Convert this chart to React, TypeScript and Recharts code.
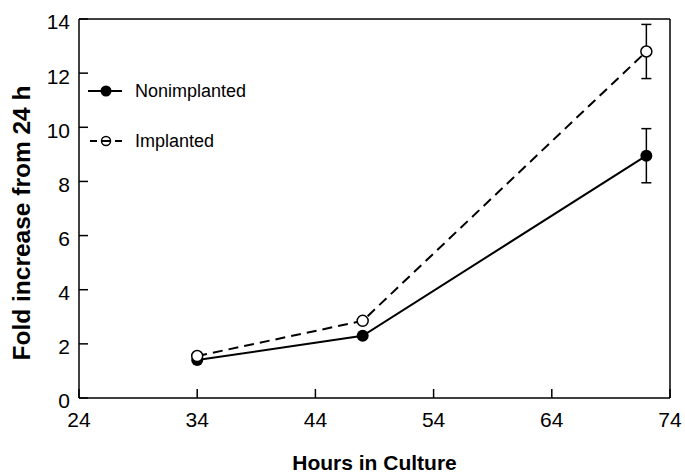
import React from 'react';
import { ErrorBar, Legend, Line, LineChart, ReferenceLine, XAxis, YAxis } from 'recharts';

// values
const hours: number[] = [34, 48, 72];
const nonimplanted: number[] = [1.4, 2.3, 8.95];
const nonimplantedErr: number[] = [0, 0, 1.0];
const implanted: number[] = [1.55, 2.85, 12.8];
const implantedErr: number[] = [0, 0, 1.0];

const xTicks: number[] = [24, 34, 44, 54, 64, 74];
const yTicks: number[] = [0, 2, 4, 6, 8, 10, 12, 14];

type row = {
    hours: number
    nonimplanted: number
    nonimplantedErr: number
    implanted: number
    implantedErr: number
};

const data: row[] = hours.map((h, i) => ({
    hours: h,
    nonimplanted: nonimplanted[i],
    nonimplantedErr: nonimplantedErr[i],
    implanted: implanted[i],
    implantedErr: implantedErr[i]
}));

const FONT = '"Liberation Sans", Arial, Helvetica, sans-serif';

const LegendBox = () => (
    <div style={{ fontFamily: FONT, fontSize: 18, color: '#000' }}>
        <div style={{ display: 'flex', alignItems: 'center', height: 24 }}>
            <svg width={40} height={24}>
                <line x1={2} y1={12} x2={36} y2={12} stroke="#000" strokeWidth={2}/>
                <circle cx={20} cy={12} r={5.5} fill="#000"/>
            </svg>
            <span style={{ marginLeft: 9 }}>Nonimplanted</span>
        </div>
        <div style={{ display: 'flex', alignItems: 'center', height: 24, marginTop: 26 }}>
            <svg width={40} height={24}>
                <circle cx={20} cy={12} r={4.5} fill="#fff" stroke="#000" strokeWidth={1.5}/>
                <line x1={4} y1={12} x2={36} y2={12} stroke="#000" strokeWidth={2}
                    strokeDasharray="7 4 10 4 7"/>
            </svg>
            <span style={{ marginLeft: 9 }}>Implanted</span>
        </div>
    </div>
);

// y title sits a little below the plot centre in the original
const YTitle = () => (
    <text x={21} y={223} transform="rotate(-90 21 223)" textAnchor="middle"
        dominantBaseline="central"
        style={{ fontFamily: FONT, fontSize: 24.5, fontWeight: 'bold', fill: '#000' }}>
        Fold increase from 24 h
    </text>
);

export default function App(): JSX.Element {
    const tickStyle = { fontFamily: FONT, fontSize: 21, fill: '#000' };
    return (
        <div style={{ position: 'absolute', left: 0, top: 0 }}>
            <LineChart width={685} height={473} data={data}
                margin={{ top: 19, right: 15, left: 0, bottom: 0 }}>
                <XAxis
                    dataKey="hours"
                    type="number"
                    domain={[24, 74]}
                    ticks={xTicks}
                    height={75}
                    tickSize={-9}
                    tickMargin={23}
                    tick={tickStyle}
                    axisLine={{ stroke: '#000', strokeWidth: 1.5 }}
                    tickLine={{ stroke: '#000', strokeWidth: 1.5 }}
                    label={{
                        value: 'Hours in Culture',
                        position: 'insideBottom',
                        offset: 3,
                        style: { fontFamily: FONT, fontSize: 21, fontWeight: 'bold', fill: '#000' }
                    }}
                />
                <YAxis
                    type="number"
                    domain={[0, 14]}
                    ticks={yTicks}
                    width={79}
                    tickSize={-9}
                    tickMargin={18}
                    tick={{ ...tickStyle, dy: 3 }}
                    axisLine={{ stroke: '#000', strokeWidth: 1.5 }}
                    tickLine={{ stroke: '#000', strokeWidth: 1.5 }}
                    label={<YTitle/>}
                />
                <ReferenceLine y={14} stroke="#000" strokeWidth={1.5}/>
                <ReferenceLine x={74} stroke="#000" strokeWidth={1.5}/>
                <Legend
                    layout="vertical"
                    align="center"
                    verticalAlign="middle"
                    content={() => <LegendBox/>}
                    wrapperStyle={{ position: 'absolute', left: 86, top: 79, width: 'auto' }}
                />
                <Line
                    dataKey="nonimplanted"
                    stroke="#000"
                    strokeWidth={2}
                    dot={{ r: 6, fill: '#000', stroke: '#000', strokeWidth: 0 }}
                    isAnimationActive={false}>
                    <ErrorBar dataKey="nonimplantedErr" width={5} stroke="#000" strokeWidth={1.5}/>
                </Line>
                <Line
                    dataKey="implanted"
                    stroke="#000"
                    strokeWidth={2}
                    strokeDasharray="10 6"
                    dot={{ r: 5.5, fill: '#fff', stroke: '#000', strokeWidth: 1.5, strokeDasharray: '' }}
                    isAnimationActive={false}>
                    <ErrorBar dataKey="implantedErr" width={5} stroke="#000" strokeWidth={1.5}/>
                </Line>
            </LineChart>
        </div>
    );
}
